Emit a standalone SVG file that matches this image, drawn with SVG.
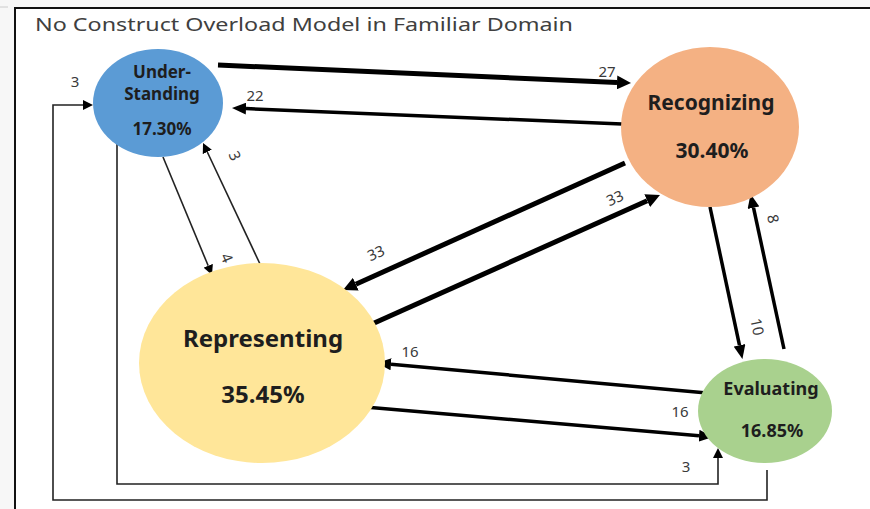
<svg xmlns="http://www.w3.org/2000/svg" width="870" height="509" viewBox="0 0 870 509">
<style>
.lbl{font-family:"Noto Sans","Open Sans",sans-serif;font-size:15px;fill:#3a3a3a;text-anchor:middle}
.nt{font-family:"Noto Sans","Open Sans",sans-serif;font-weight:bold;fill:#1e1e1e;text-anchor:middle}
.thick{stroke:#000;stroke-width:5;fill:none}
.mid{stroke:#000;stroke-width:3.5;fill:none}
.thin{stroke:#222;stroke-width:1.6;fill:none}
</style>
<defs>
<marker id="aB" markerUnits="userSpaceOnUse" markerWidth="14" markerHeight="14" refX="0" refY="7" orient="auto"><path d="M0,0 L14,7 L0,14 z" fill="#000"/></marker>
<marker id="aM" markerUnits="userSpaceOnUse" markerWidth="14" markerHeight="12" refX="0" refY="6" orient="auto"><path d="M0,0 L14,6 L0,12 z" fill="#000"/></marker>
<marker id="aS" markerUnits="userSpaceOnUse" markerWidth="10" markerHeight="10" refX="0" refY="5" orient="auto"><path d="M0,0 L10,5 L0,10 z" fill="#000"/></marker>
</defs>
<rect x="0" y="0" width="870" height="509" fill="#f7f7f7"/>
<rect x="15" y="8" width="855" height="501" fill="#fff"/>
<line x1="0" y1="7" x2="8" y2="7" stroke="#ccc" stroke-width="1"/>
<path d="M15,509 V8 H870" stroke="#111" stroke-width="2" fill="none"/>
<text x="35" y="31" font-family="'Noto Sans','Open Sans',sans-serif" font-size="18" fill="#404040" textLength="538" lengthAdjust="spacingAndGlyphs">No Construct Overload Model in Familiar Domain</text>

<g id="connectors">
<line class="thick" x1="218" y1="65" x2="617" y2="82.4" marker-end="url(#aB)"/>
<line class="mid" x1="622" y1="124" x2="246" y2="108.6" marker-end="url(#aM)"/>
<line class="thin" x1="163" y1="157" x2="208.2" y2="265.8" marker-end="url(#aS)"/>
<line class="thin" x1="260" y1="264" x2="207.3" y2="152" marker-end="url(#aS)"/>
<line class="thick" x1="625" y1="163" x2="355.8" y2="284.2" marker-end="url(#aB)"/>
<line class="thick" x1="372" y1="324" x2="647.2" y2="200.7" marker-end="url(#aB)"/>
<line class="mid" x1="710" y1="207" x2="739.5" y2="345.3" marker-end="url(#aM)"/>
<line class="mid" x1="784" y1="349" x2="753.5" y2="207.7" marker-end="url(#aM)"/>
<line class="mid" x1="707" y1="393" x2="391" y2="364.3" marker-end="url(#aM)"/>
<line class="mid" x1="365" y1="407" x2="699" y2="435.8" marker-end="url(#aM)"/>
<path class="thin" d="M117,142 V484 H718 V458" marker-end="url(#aS)"/>
<path class="thin" d="M767,470 V500 H53 V105 H83" marker-end="url(#aS)"/>
<text class="lbl" x="607" y="77">27</text>
<text class="lbl" x="255" y="101">22</text>
<text class="lbl" transform="translate(222,260) rotate(67)">4</text>
<text class="lbl" transform="translate(230,158) rotate(67)">3</text>
<text class="lbl" transform="translate(378,258) rotate(-24)">33</text>
<text class="lbl" transform="translate(617,203) rotate(-24)">33</text>
<text class="lbl" transform="translate(752,328) rotate(78)">10</text>
<text class="lbl" transform="translate(768,220) rotate(78)">8</text>
<text class="lbl" x="410" y="357">16</text>
<text class="lbl" x="680" y="417">16</text>
<text class="lbl" x="686" y="472">3</text>
<text class="lbl" x="75" y="87">3</text>
</g>

<g id="understanding">
<ellipse cx="158" cy="103" rx="65" ry="54" fill="#5B9BD5"/>
<text class="nt" x="162" y="78" font-size="17">Under-</text>
<text class="nt" x="162" y="100" font-size="17">Standing</text>
<text class="nt" x="162" y="135" font-size="17">17.30%</text>
</g>
<g id="recognizing">
<ellipse cx="710" cy="127" rx="89" ry="80" fill="#F4B183"/>
<text class="nt" x="711" y="110" font-size="21">Recognizing</text>
<text class="nt" x="712" y="158" font-size="21">30.40%</text>
</g>
<g id="representing">
<ellipse cx="262" cy="363" rx="123" ry="100" fill="#FFE699"/>
<text class="nt" x="263" y="347" font-size="24">Representing</text>
<text class="nt" x="263" y="403" font-size="24">35.45%</text>
</g>
<g id="evaluating">
<ellipse cx="765" cy="411" rx="67" ry="52" fill="#A9D18E"/>
<text class="nt" x="771" y="395" font-size="18">Evaluating</text>
<text class="nt" x="772" y="437" font-size="18">16.85%</text>
</g>
</svg>
